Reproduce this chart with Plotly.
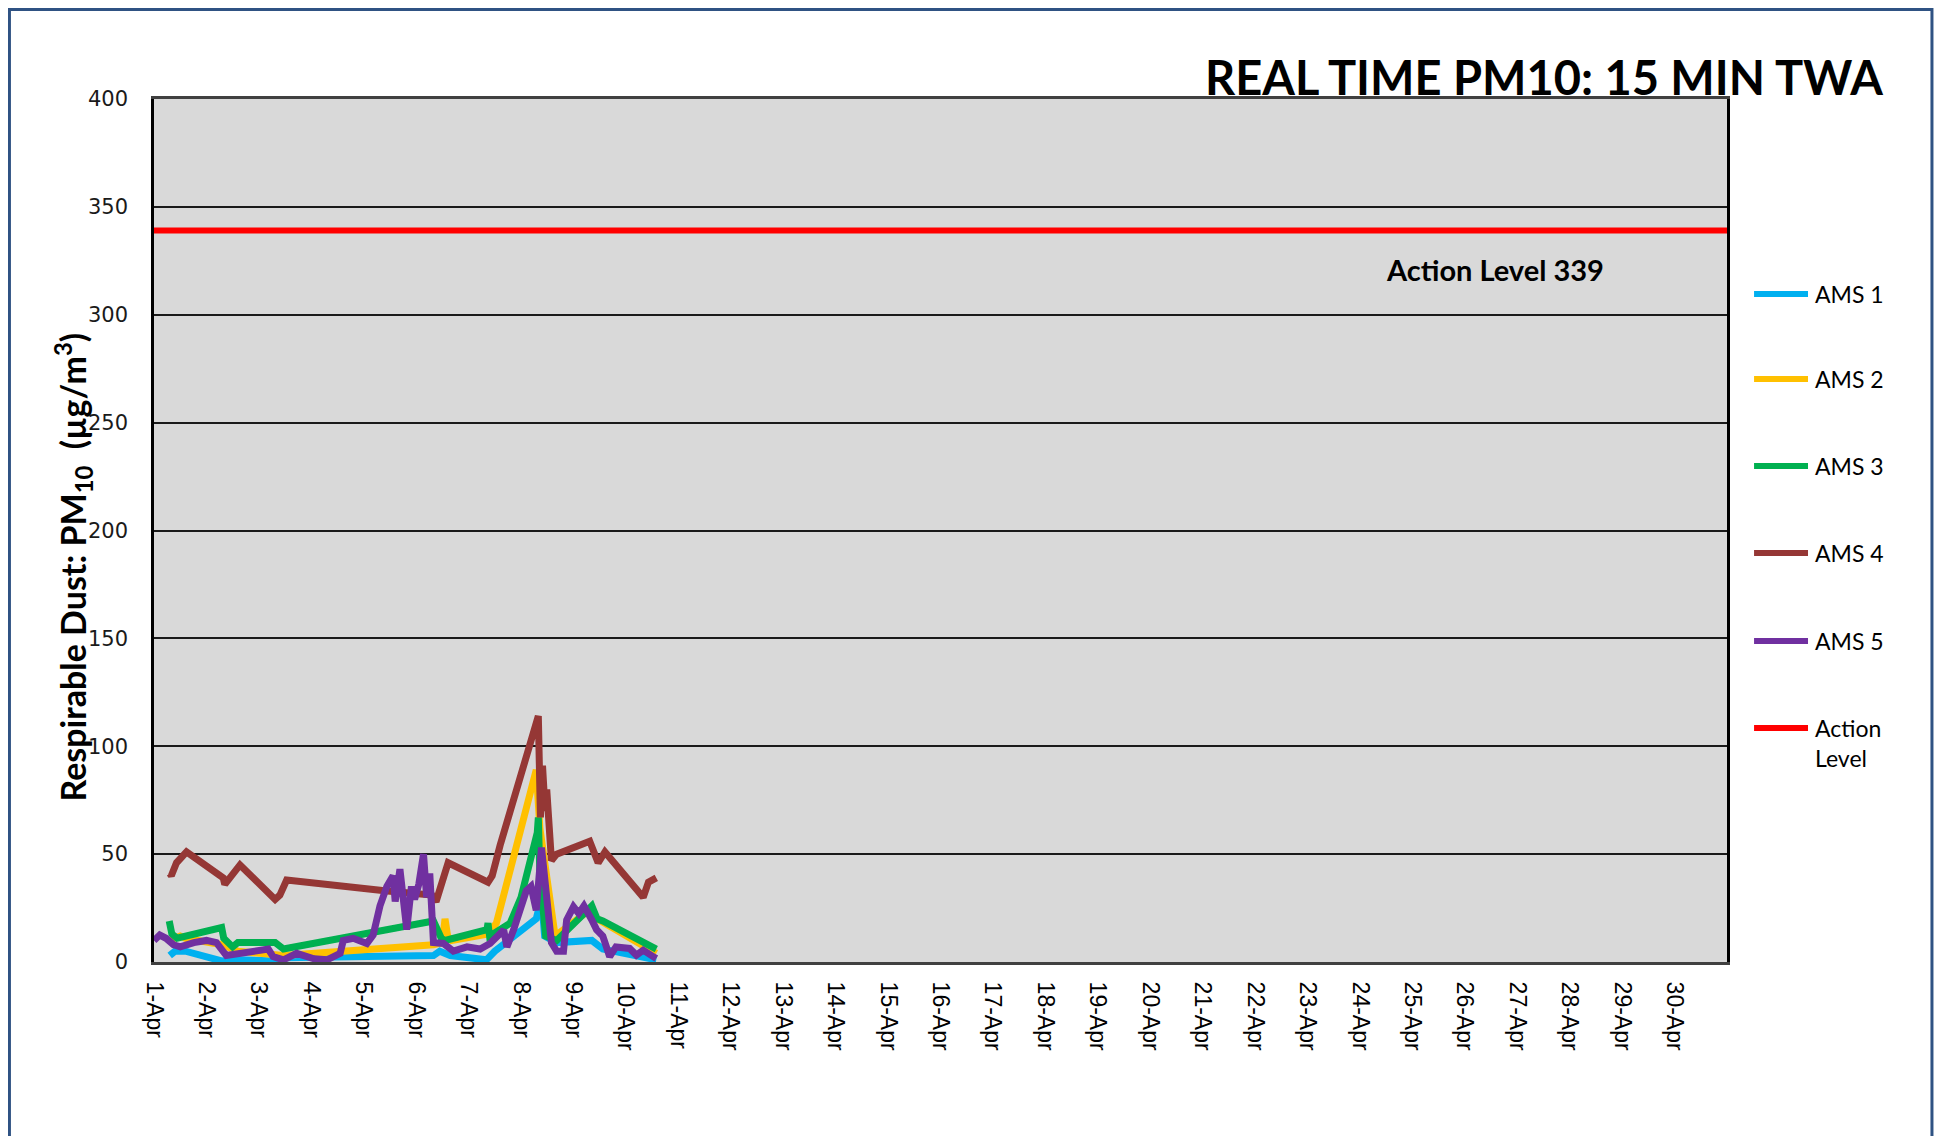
import plotly.graph_objects as go

# ---- data ----
ams1_t = ["2024-04-01 07:12", "2024-04-01 09:36", "2024-04-01 14:24", "2024-04-02 06:58", "2024-04-02 14:24",
          "2024-04-03 07:12", "2024-04-03 11:17", "2024-04-06 07:55", "2024-04-06 10:48", "2024-04-06 15:36",
          "2024-04-07 08:10", "2024-04-07 12:00", "2024-04-08 06:58", "2024-04-08 09:22", "2024-04-08 10:48",
          "2024-04-08 16:19", "2024-04-09 08:24", "2024-04-09 13:26", "2024-04-10 13:55"]
ams1_v = [3, 5, 5, 0.5, 1, 0.5, 2, 3, 5, 3, 1, 5, 20, 30, 12, 9, 10, 6, 1]

ams2_t = ["2024-04-01 06:58", "2024-04-01 12:00", "2024-04-01 14:24", "2024-04-02 07:12", "2024-04-02 14:24",
          "2024-04-03 07:12", "2024-04-03 11:17", "2024-04-06 07:55", "2024-04-06 12:00", "2024-04-06 13:12",
          "2024-04-06 14:24", "2024-04-06 16:19", "2024-04-07 08:53", "2024-04-07 12:43", "2024-04-08 06:58",
          "2024-04-08 08:38", "2024-04-08 11:46", "2024-04-08 15:36", "2024-04-09 07:12", "2024-04-09 10:48",
          "2024-04-10 13:55"]
ams2_v = [10, 12, 11, 8, 5, 4, 3, 8, 9, 20, 12, 10, 13, 18, 89, 62, 40, 12, 24, 20, 4]

ams3_t = ["2024-04-01 06:58", "2024-04-01 08:10", "2024-04-01 10:34", "2024-04-02 06:58", "2024-04-02 07:55",
          "2024-04-02 12:00", "2024-04-02 14:24", "2024-04-03 07:26", "2024-04-03 11:17", "2024-04-06 07:55",
          "2024-04-06 11:31", "2024-04-06 13:12", "2024-04-07 08:24", "2024-04-07 08:53", "2024-04-07 09:36",
          "2024-04-07 19:00", "2024-04-08 00:00", "2024-04-08 05:31", "2024-04-08 07:26", "2024-04-08 07:55",
          "2024-04-08 08:38", "2024-04-08 11:17", "2024-04-08 16:19", "2024-04-09 08:24", "2024-04-09 10:48",
          "2024-04-09 13:26", "2024-04-10 13:55"]
ams3_v = [19, 13, 11, 16, 11, 7, 9, 9, 6, 19, 11, 10, 15, 18, 12, 18, 30, 53, 60, 67, 40, 12, 10, 26, 20, 19, 6]

ams4_t = ["2024-04-01 07:12", "2024-04-01 07:55", "2024-04-01 10:19", "2024-04-01 14:53", "2024-04-02 07:41",
          "2024-04-02 08:24", "2024-04-02 15:22", "2024-04-03 07:26", "2024-04-03 09:36", "2024-04-03 12:43",
          "2024-04-05 09:36", "2024-04-06 07:12", "2024-04-06 09:07", "2024-04-06 14:38", "2024-04-07 08:53",
          "2024-04-07 10:48", "2024-04-07 14:24", "2024-04-08 07:55", "2024-04-08 08:53", "2024-04-08 09:50",
          "2024-04-08 11:02", "2024-04-08 11:46", "2024-04-08 13:55", "2024-04-08 16:19", "2024-04-09 07:26",
          "2024-04-09 11:17", "2024-04-09 14:24", "2024-04-10 07:55", "2024-04-10 10:19", "2024-04-10 13:55"]
ams4_v = [41, 40, 46, 51, 39, 36, 45, 29, 31, 38, 33, 31, 28, 46, 37, 40, 54, 114, 67, 91, 70, 80, 47, 50,
          56, 46, 51, 30, 37, 39]

ams5_t = ["2024-04-01 00:00", "2024-04-01 02:38", "2024-04-01 05:31", "2024-04-01 08:53", "2024-04-01 12:00",
          "2024-04-01 18:14", "2024-04-02 00:00", "2024-04-02 04:34", "2024-04-02 09:07", "2024-04-02 15:22",
          "2024-04-02 21:22", "2024-04-03 04:19", "2024-04-03 06:29", "2024-04-03 11:17", "2024-04-03 17:17",
          "2024-04-04 01:12", "2024-04-04 07:12", "2024-04-04 13:12", "2024-04-04 14:38", "2024-04-04 19:12",
          "2024-04-05 01:26", "2024-04-05 04:19", "2024-04-05 07:26", "2024-04-05 10:34", "2024-04-05 13:26",
          "2024-04-05 14:24", "2024-04-05 16:34", "2024-04-05 19:41", "2024-04-05 21:50", "2024-04-05 23:17",
          "2024-04-06 01:12", "2024-04-06 03:22", "2024-04-06 04:48", "2024-04-06 06:14", "2024-04-06 07:55",
          "2024-04-06 12:29", "2024-04-06 17:02", "2024-04-06 23:17", "2024-04-07 05:17", "2024-04-07 09:50",
          "2024-04-07 16:05", "2024-04-07 17:31", "2024-04-07 20:38", "2024-04-08 02:24", "2024-04-08 04:34",
          "2024-04-08 06:58", "2024-04-08 09:22", "2024-04-08 11:46", "2024-04-08 13:55", "2024-04-08 16:19",
          "2024-04-08 19:26", "2024-04-08 20:53", "2024-04-09 00:00", "2024-04-09 02:24", "2024-04-09 04:48",
          "2024-04-09 08:24", "2024-04-09 10:34", "2024-04-09 13:26", "2024-04-09 16:34", "2024-04-09 19:26",
          "2024-04-10 01:41", "2024-04-10 04:48", "2024-04-10 07:55", "2024-04-10 12:29", "2024-04-10 13:55"]
ams5_v = [10, 12.5, 11, 8, 7, 9, 10, 9, 3, 4, 5, 6, 2.5, 1, 4, 1.5, 1, 4, 10, 11, 8.6, 12.5, 26, 35, 40, 28,
          43, 15, 35, 29, 36, 50, 30, 41, 9, 8.6, 5, 7, 6, 8.6, 14.8, 7, 15, 33, 35, 24, 53, 33, 9, 5, 5, 19.5,
          25.6, 22.5, 26, 19.5, 15, 12, 2.5, 7, 6.3, 3.2, 5.5, 2.5, 1.6]

action_level = 339
month_start = "2024-04-01"
month_end = "2024-05-01"

series = [
    ("AMS 1", ams1_t, ams1_v, "#00B0F0"),
    ("AMS 2", ams2_t, ams2_v, "#FFC000"),
    ("AMS 3", ams3_t, ams3_v, "#00B050"),
    ("AMS 4", ams4_t, ams4_v, "#953735"),
    ("AMS 5", ams5_t, ams5_v, "#7030A0"),
]

fig = go.Figure()

for name, t, v, col in series:
    fig.add_trace(go.Scatter(x=t, y=v, name=name, mode="lines", showlegend=False,
                             line=dict(color=col, width=7)))

fig.add_trace(go.Scatter(x=[month_start, month_end], y=[action_level, action_level],
                         name="Action Level", mode="lines", showlegend=False,
                         line=dict(color="#FF0000", width=6)))

# hand-made legend, Excel style: long line sample, wide spacing
legend_rows = [(s[0], s[3]) for s in series] + [("Action<br>Level", "#FF0000")]
row_y = [0.774, 0.6756, 0.5747, 0.4739, 0.372, 0.2711]
for (label, col), yy in zip(legend_rows, row_y):
    fig.add_shape(type="line", xref="paper", yref="paper", x0=1.0172, x1=1.0515, y0=yy, y1=yy,
                  line=dict(color=col, width=6))
    fig.add_annotation(xref="paper", yref="paper", x=1.0547, y=yy + 0.019, xanchor="left", yanchor="top",
                       text=label, align="left", showarrow=False,
                       font=dict(family="Lato", size=23, color="black"))

# action level label
fig.add_annotation(x="2024-04-26 14:00", y=321, text="<b>Action Level 339</b>", showarrow=False,
                   font=dict(family="Lato", size=29, color="black"))

# chart title
fig.add_annotation(xref="paper", yref="paper", x=1.1005, y=1.0255, xanchor="right", yanchor="middle",
                   text="<b>REAL TIME PM10: 15 MIN TWA</b>", showarrow=False,
                   font=dict(family="Lato", size=47, color="black"))

# y axis title (sits over tick labels like the original)
fig.add_annotation(xref="paper", yref="paper", x=-0.051, y=0.458, xanchor="center", yanchor="middle",
                   textangle=-90, showarrow=False,
                   text="<b>Respirable Dust: PM<sub>10</sub>  (µg/m<sup>3</sup>)</b>",
                   font=dict(family="Lato", size=34, color="black"))

# outer frame
fig.add_shape(type="rect", xref="paper", yref="paper", x0=-0.0919, x1=1.1303, y0=-0.25, y1=1.1037,
              line=dict(color="#2F5283", width=3))

fig.update_layout(
    width=1936, height=1128,
    margin=dict(l=146, r=217, t=91, b=174),
    paper_bgcolor="white",
    plot_bgcolor="#D9D9D9",
    font=dict(family="Lato", color="black"),
    showlegend=False,
    xaxis=dict(type="date", range=[month_start, month_end], dtick=86400000, tick0=month_start,
               tickformat="%-d-%b", tickangle=90, showgrid=False, zeroline=False,
               ticks="outside", ticklen=12, tickcolor="rgba(0,0,0,0)",
               tickfont=dict(family="Liberation Sans", size=23, color="black"),
               showline=True, linecolor="#404040", linewidth=3, mirror=True),
    yaxis=dict(range=[0, 400], dtick=50, showgrid=True, gridcolor="#1a1a1a", gridwidth=1.5,
               zeroline=False, ticks="outside", ticklen=19, tickcolor="rgba(0,0,0,0)",
               tickfont=dict(family="DejaVu Sans", size=21, color="#1a1a1a"),
               showline=True, linecolor="black", linewidth=2.5, mirror=True),
)
# Excel shows no label for the closing 1-May boundary
fig.update_xaxes(tickvals=[f"2024-04-{d:02d}" for d in range(1, 31)])

fig.write_html("out.html")
